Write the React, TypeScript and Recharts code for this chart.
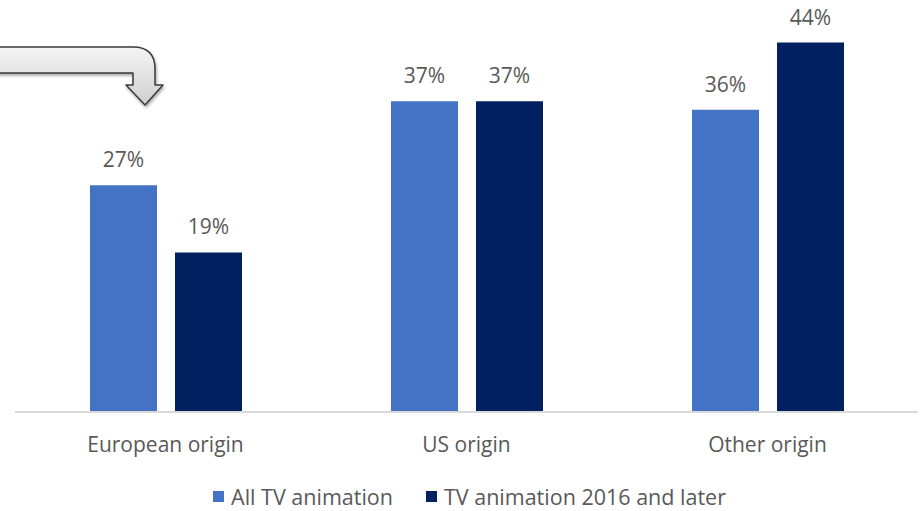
import { BarChart, Bar, XAxis, YAxis, Legend, LabelList } from "recharts";

const categories = ["European origin", "US origin", "Other origin"];
const allTv = [0.27, 0.37, 0.36];
const recentTv = [0.19, 0.37, 0.44];

const SERIES = [
  { key: "all", name: "All TV animation", color: "#4472c4" },
  { key: "recent", name: "TV animation 2016 and later", color: "#002060" },
];

const FONT = "'Open Sans', 'Liberation Sans', sans-serif";
const TEXT = "#595959";

const data = categories.map((c, i) => ({ name: c, all: allTv[i], recent: recentTv[i] }));

const pct = (v: unknown) => `${Math.round(Number(v) * 100)}%`;

function LegendRow() {
  return (
    <div
      style={{
        height: 39,
        display: "flex",
        justifyContent: "center",
        alignItems: "flex-end",
        gap: 33,
        fontFamily: FONT,
        fontSize: 21.5,
        color: TEXT,
        paddingLeft: 6,
        boxSizing: "border-box",
      }}
    >
      {SERIES.map((s) => (
        <div key={s.key} style={{ display: "flex", alignItems: "center", gap: 7 }}>
          <div style={{ width: 11, height: 11, background: s.color }} />
          <span>{s.name}</span>
        </div>
      ))}
    </div>
  );
}

export default function App() {
  return (
    <div style={{ position: "absolute", left: 0, top: 0, width: 922, height: 511, background: "#fff" }}>
      <BarChart
        width={922}
        height={511}
        data={data}
        margin={{ top: 9, right: 4, bottom: 0, left: 15 }}
        barSize={67}
        barGap={18}
      >
        <XAxis
          dataKey="name"
          height={60}
          tickLine={false}
          tickSize={0}
          tickMargin={25}
          axisLine={{ stroke: "#d9d9d9", strokeWidth: 2 }}
          tick={{ fill: TEXT, fontSize: 21, fontFamily: FONT }}
        />
        <YAxis hide domain={[0, 0.48]} />
        <Legend verticalAlign="bottom" height={39} content={() => <LegendRow />} />
        {SERIES.map((s) => (
          <Bar key={s.key} dataKey={s.key} name={s.name} fill={s.color} isAnimationActive={false}>
            <LabelList
              dataKey={s.key}
              position="top"
              offset={18}
              formatter={pct}
              style={{ fill: TEXT, fontSize: 21, fontFamily: FONT }}
            />
          </Bar>
        ))}
      </BarChart>
      <svg
        width={180}
        height={120}
        style={{ position: "absolute", left: 0, top: 0, overflow: "visible" }}
      >
        <defs>
          <linearGradient id="arrowFill" x1="0" y1="0" x2="0" y2="1">
            <stop offset="0%" stopColor="#f4f4f4" />
            <stop offset="100%" stopColor="#cfcfcf" />
          </linearGradient>
          <filter id="arrowShadow" x="-20%" y="-20%" width="140%" height="160%">
            <feDropShadow dx="1" dy="2" stdDeviation="1.5" floodColor="#000" floodOpacity="0.35" />
          </filter>
        </defs>
        <path
          d="M -4 47 L 133 47 Q 155 47 155 69 L 155 85 L 163 85 L 145 105 L 126 85 L 133 85 L 133 73 L -4 73 Z"
          fill="url(#arrowFill)"
          stroke="#3a3a3a"
          strokeWidth={1.5}
          strokeLinejoin="round"
          filter="url(#arrowShadow)"
        />
      </svg>
    </div>
  );
}
